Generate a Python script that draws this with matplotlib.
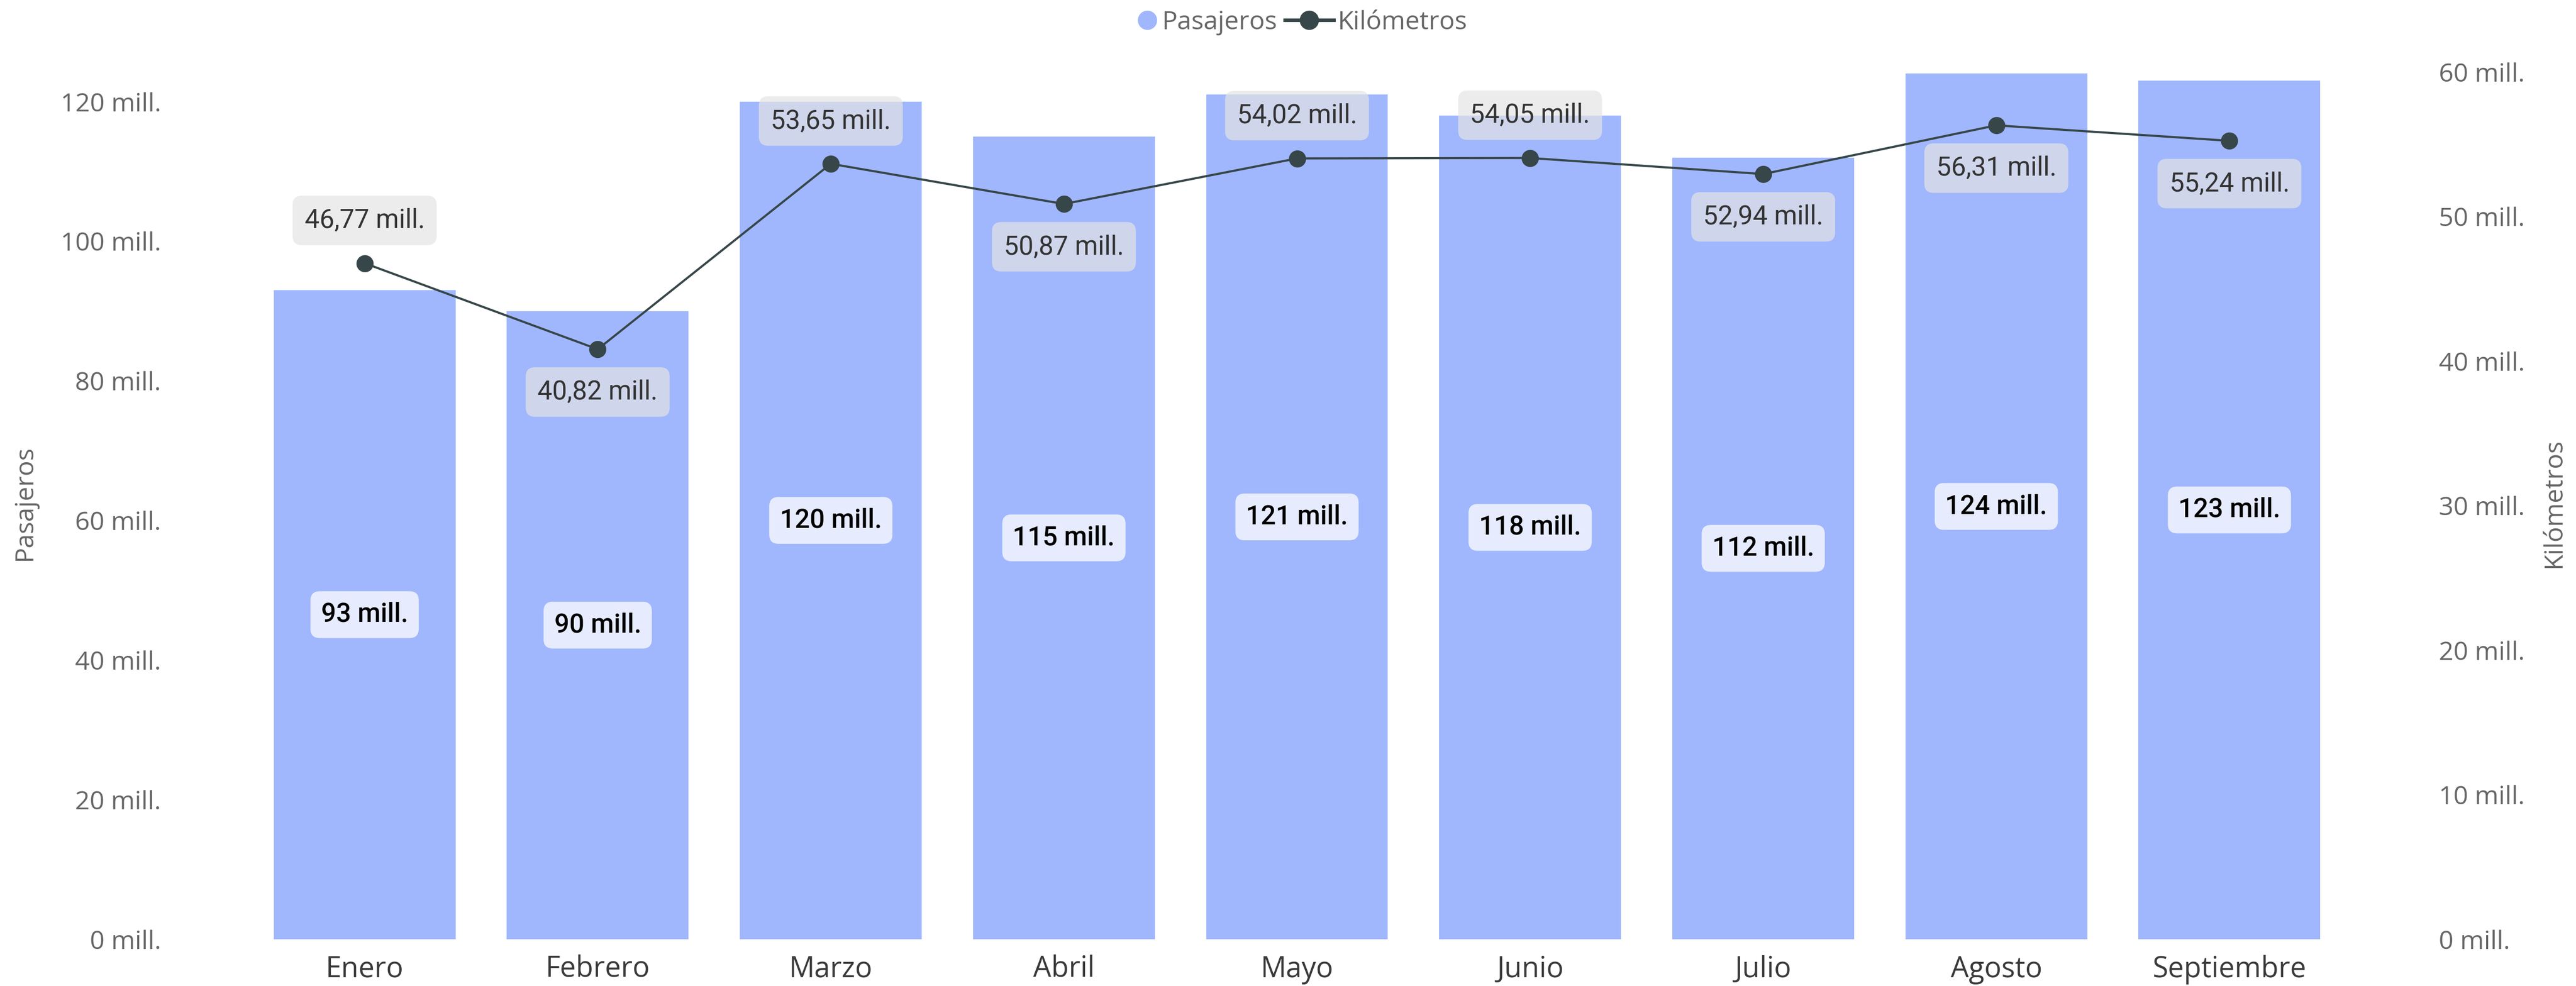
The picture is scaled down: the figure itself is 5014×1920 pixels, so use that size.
import matplotlib
matplotlib.use("Agg")
import matplotlib.pyplot as plt
from matplotlib.lines import Line2D
from matplotlib.legend_handler import HandlerLine2D

months = ["Enero", "Febrero", "Marzo", "Abril", "Mayo", "Junio", "Julio", "Agosto", "Septiembre"]
pasajeros = [93, 90, 120, 115, 121, 118, 112, 124, 123]
kilometros = [46.77, 40.82, 53.65, 50.87, 54.02, 54.05, 52.94, 56.31, 55.24]
km_label_side = ["above", "below", "above", "below", "above", "above", "below", "below", "below"]
left_ticks = [0, 20, 40, 60, 80, 100, 120]
right_ticks = [0, 10, 20, 30, 40, 50, 60]

BAR = "#A0B7FD"
LINE = "#374649"
AXIS_FONT = ["Open Sans", "DejaVu Sans"]
LABEL_FONT = ["Roboto", "DejaVu Sans"]

fig = plt.figure(figsize=(50.14, 19.2), dpi=100)
ax = fig.add_axes([0.0963, 0.0474, 0.8144, 0.885])
ax2 = ax.twinx()

x = list(range(len(months)))
ax.bar(x, pasajeros, width=0.78, color=BAR, zorder=2)
ax.set_xlim(-0.5, len(months) - 0.5)
ax.set_ylim(0, 125)
ax2.set_ylim(0, 60.37)

for s in ["top", "right", "left", "bottom"]:
    ax.spines[s].set_visible(False)
    ax2.spines[s].set_visible(False)

ax.set_yticks(left_ticks)
ax.set_yticklabels([f"{v} mill." for v in left_ticks], fontfamily=AXIS_FONT, fontsize=36, color="#666666")
ax.tick_params(axis="y", length=0, pad=122)
ax2.set_yticks(right_ticks)
ax2.set_yticklabels([f"{v} mill." for v in right_ticks], fontfamily=AXIS_FONT, fontsize=36, color="#666666")
ax2.tick_params(axis="y", length=0, pad=130)
ax.set_xticks(x)
ax.set_xticklabels(months, fontfamily=AXIS_FONT, fontsize=40, color="#3a3a3a")
ax.tick_params(axis="x", length=0, pad=22)

ax.set_ylabel("Pasajeros", fontfamily=AXIS_FONT, fontsize=36, color="#666666")
ax.yaxis.set_label_coords(-0.1004, 0.5)
ax2.set_ylabel("Kilómetros", fontfamily=AXIS_FONT, fontsize=36, color="#666666", rotation=90)
ax2.yaxis.set_label_coords(1.0931, 0.5)

# bar labels
for xi, v in zip(x, pasajeros):
    ax.text(xi, v / 2, f"{v} mill.", ha="center", va="center", fontsize=37,
            fontfamily=LABEL_FONT, fontweight="medium", color="black", zorder=5,
            bbox=dict(boxstyle="round,pad=0.4,rounding_size=0.35", fc="white", ec="none", alpha=0.75))

# line
ax2.plot(x, kilometros, color=LINE, lw=3, marker="o", ms=23, zorder=4)
for xi, v, side in zip(x, kilometros, km_label_side):
    off = 60 if side == "above" else -60
    txt = f"{v:.2f}".replace(".", ",") + " mill."
    ax2.annotate(txt, (xi, v), xytext=(0, off), textcoords="offset points",
                 ha="center", va="center", fontsize=37, fontfamily=LABEL_FONT, color="#333333", zorder=6,
                 bbox=dict(boxstyle="round,pad=0.45,rounding_size=0.35", fc=(228/255, 228/255, 228/255), ec="none", alpha=0.7))


class RightMarkerHandler(HandlerLine2D):
    def create_artists(self, legend, orig_handle, xdescent, ydescent, width, height, fontsize, trans):
        arts = super().create_artists(legend, orig_handle, xdescent, ydescent, width, height, fontsize, trans)
        m = width - 15 - xdescent
        for a in arts:
            n = len(a.get_xdata())
            a.set_xdata([m] * n)
        return arts


h_pas = Line2D([], [], marker="o", ls="none", color=BAR, ms=26)
h_km = Line2D([], [], marker="o", color=LINE, lw=5, ms=26)
leg = fig.legend([h_pas, h_km], ["Pasajeros", "Kilómetros"], loc="center", bbox_to_anchor=(0.5, 0.977), ncol=2,
                 frameon=False, prop={"family": AXIS_FONT, "size": 36}, handlelength=1.9, handletextpad=0.15,
                 columnspacing=0.3, labelcolor="#666666",
                 handler_map={h_pas: RightMarkerHandler()})

fig.savefig("out.png", dpi=100, facecolor="white")
